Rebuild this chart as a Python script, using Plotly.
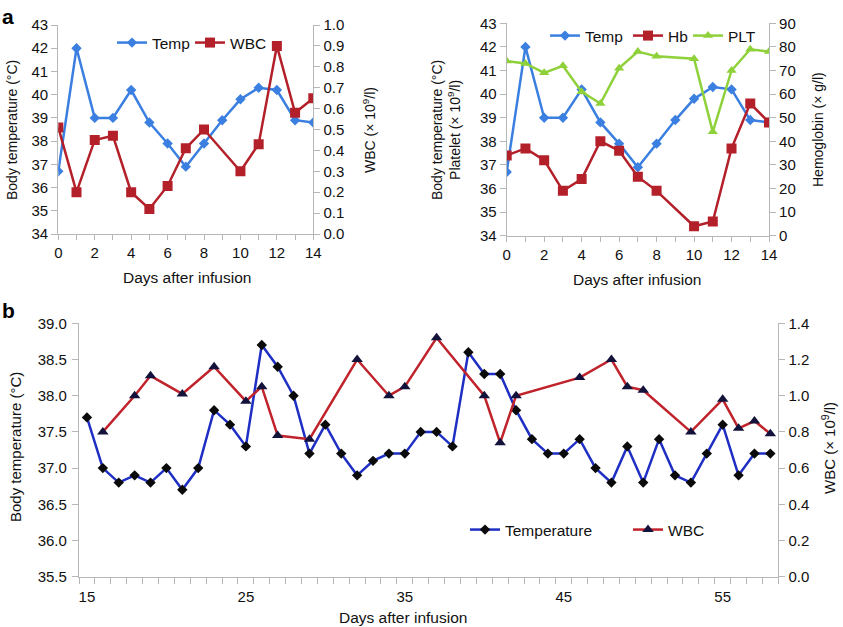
import plotly.graph_objects as go

# ---- Panel a (left): temperature & WBC, days 0-14
a_days = list(range(0, 15))
a_temp = [36.7, 42.0, 39.0, 39.0, 40.2, 38.8, 37.9, 36.9, 37.9, 38.9, 39.8, 40.3, 40.2, 38.9, 38.8]
a_wbc_days = [0, 1, 2, 3, 4, 5, 6, 7, 8, 10, 11, 12, 13, 14]
a_wbc = [0.51, 0.20, 0.45, 0.47, 0.20, 0.12, 0.23, 0.41, 0.50, 0.30, 0.43, 0.90, 0.58, 0.65]

# ---- Panel a (right): temperature, Hb, PLT
r_hb_days = [0, 1, 2, 3, 4, 5, 6, 7, 8, 10, 11, 12, 13, 14]
r_hb = [34, 37, 32, 19, 24, 40, 36, 25, 19, 4, 6, 37, 56, 48]
r_plt_days = [0, 1, 2, 3, 4, 5, 6, 7, 8, 10, 11, 12, 13, 14]
r_plt = [41.4, 41.3, 40.9, 41.2, 40.1, 39.6, 41.1, 41.8, 41.6, 41.5, 38.4, 41.0, 41.9, 41.8]

# ---- Panel b: days 15-58
b_days = list(range(15, 59))
b_temp = [37.7, 37.0, 36.8, 36.9, 36.8, 37.0, 36.7, 37.0, 37.8, 37.6, 37.3,
          38.7, 38.4, 38.0, 37.2, 37.6, 37.2, 36.9, 37.1, 37.2, 37.2, 37.5,
          37.5, 37.3, 38.6, 38.3, 38.3, 37.8, 37.4, 37.2, 37.2, 37.4, 37.0,
          36.8, 37.3, 36.8, 37.4, 36.9, 36.8, 37.2, 37.6, 36.9, 37.2, 37.2]
b_wbc_days = [16, 18, 19, 21, 23, 25, 26, 27, 29, 32, 34, 35, 37, 40, 41, 42,
              46, 48, 49, 50, 53, 55, 56, 57, 58]
b_wbc = [0.80, 1.00, 1.11, 1.01, 1.16, 0.97, 1.05, 0.78, 0.76, 1.20, 1.00, 1.05,
         1.32, 1.00, 0.74, 1.00, 1.10, 1.20, 1.05, 1.03, 0.80, 0.98, 0.82, 0.86, 0.79]

a_ticks = [34, 35, 36, 37, 38, 39, 40, 41, 42, 43]
a_wbc_ticks = [0.0, 0.1, 0.2, 0.3, 0.4, 0.5, 0.6, 0.7, 0.8, 0.9, 1.0]
r_hb_ticks = [0, 10, 20, 30, 40, 50, 60, 70, 80, 90]
b_ticks = [35.5, 36.0, 36.5, 37.0, 37.5, 38.0, 38.5, 39.0]
b_wbc_ticks = [0.0, 0.2, 0.4, 0.6, 0.8, 1.0, 1.2, 1.4]
b_xlabels = [15, 25, 35, 45, 55]

BLUE = "#3b7fe0"
RED = "#b3202a"
GREEN = "#8fd13a"
DBLUE = "#1f2fc4"
DRED = "#c0232b"
AX = "#b4b8b8"
FONT = "Liberation Sans, Arial, sans-serif"

W, H = 843, 627
def px(x):
    return x / W
def py(y):
    return 1 - y / H

fig = go.Figure()

# Panel a left
fig.add_trace(go.Scatter(x=a_days, y=a_temp, name="Temp", mode="lines+markers",
                         line=dict(color=BLUE, width=2.5), marker=dict(symbol="diamond", size=8, color=BLUE),
                         xaxis="x", yaxis="y", legend="legend"))
fig.add_trace(go.Scatter(x=a_wbc_days, y=a_wbc, name="WBC", mode="lines+markers",
                         line=dict(color=RED, width=2.5), marker=dict(symbol="square", size=10, color=RED),
                         xaxis="x", yaxis="y2", legend="legend2"))

# Panel a right
fig.add_trace(go.Scatter(x=a_days, y=a_temp, name="Temp", mode="lines+markers",
                         line=dict(color=BLUE, width=2.5), marker=dict(symbol="diamond", size=8, color=BLUE),
                         xaxis="x2", yaxis="y3", legend="legend3"))
fig.add_trace(go.Scatter(x=r_hb_days, y=r_hb, name="Hb", mode="lines+markers",
                         line=dict(color=RED, width=2.5), marker=dict(symbol="square", size=10, color=RED),
                         xaxis="x2", yaxis="y4", legend="legend4"))
fig.add_trace(go.Scatter(x=r_plt_days, y=r_plt, name="PLT", mode="lines+markers",
                         line=dict(color=GREEN, width=2.5), marker=dict(symbol="triangle-up", size=9, color=GREEN),
                         xaxis="x2", yaxis="y3", legend="legend5"))

# Panel b
fig.add_trace(go.Scatter(x=b_days, y=b_temp, name="Temperature", mode="lines+markers",
                         line=dict(color=DBLUE, width=2.5), marker=dict(symbol="diamond", size=8, color="#0a0a0a"),
                         xaxis="x3", yaxis="y5", legend="legend6"))
fig.add_trace(go.Scatter(x=b_wbc_days, y=b_wbc, name="WBC", mode="lines+markers",
                         line=dict(color=DRED, width=2.5), marker=dict(symbol="triangle-up", size=10, color="#12123a"),
                         xaxis="x3", yaxis="y6", legend="legend7"))

tickfont = dict(family=FONT, size=15, color="#111")
common = dict(showline=True, linecolor=AX, linewidth=1.2, ticks="outside", tickcolor=AX,
              ticklen=6, tickwidth=1.2, showgrid=False, zeroline=False, tickfont=tickfont,
              automargin=False)
xcommon = {**common, "ticklen": 5}

fig.update_layout(
    xaxis=dict(domain=[px(58.3), px(313.3)], range=[0, 14], anchor="y", tickvals=list(range(0, 15, 2)),
               minor=dict(ticks="outside", tickvals=list(range(0, 15)), ticklen=5, tickcolor=AX), **xcommon),
    yaxis=dict(domain=[py(234), py(25)], range=[34, 43], tickvals=a_ticks, anchor="x", **common),
    yaxis2=dict(range=[0, 1.0], tickvals=a_wbc_ticks, tickformat=".1f", overlaying="y", side="right",
                anchor="x", **common),
    xaxis2=dict(domain=[px(506.7), px(769)], range=[0, 14], anchor="y3", tickvals=list(range(0, 15, 2)),
                minor=dict(ticks="outside", tickvals=list(range(0, 15)), ticklen=5, tickcolor=AX), **xcommon),
    yaxis3=dict(domain=[py(235.7), py(23.3)], range=[34, 43], tickvals=a_ticks, anchor="x2", **common),
    yaxis4=dict(range=[0, 90], tickvals=r_hb_ticks, overlaying="y3", side="right", anchor="x2", **common),
    xaxis3=dict(domain=[px(79), px(778.3)], range=[14.5, 58.5], anchor="y5", tickvals=b_xlabels,
                minor=dict(ticks="outside", tick0=14.5, dtick=1, ticklen=6, tickcolor=AX),
                ticklabelstandoff=6, **{**common, "ticks": "", "ticklen": 0}),
    yaxis5=dict(domain=[py(576.7), py(323.3)], range=[35.5, 39.0], tickvals=b_ticks, tickformat=".1f",
                anchor="x3", ticklabelstandoff=2, **common),
    yaxis6=dict(range=[0, 1.4], tickvals=b_wbc_ticks, tickformat=".1f", overlaying="y5", side="right",
                anchor="x3", **common),
)

leg = dict(orientation="h", xanchor="left", yanchor="middle", bgcolor="rgba(0,0,0,0)",
           font=dict(family=FONT, size=15.5, color="#111"), borderwidth=0)
fig.update_layout(
    showlegend=True,
    legend=dict(x=px(112), y=py(43), **leg),
    legend2=dict(x=px(190), y=py(43), **leg),
    legend3=dict(x=px(545), y=py(36), **leg),
    legend4=dict(x=px(628), y=py(36), **leg),
    legend5=dict(x=px(688), y=py(36), **leg),
    legend6=dict(x=px(465), y=py(530), **leg),
    legend7=dict(x=px(628), y=py(530), **leg),
)

tf = dict(family=FONT, size=14, color="#111")
xf = dict(family=FONT, size=15.5, color="#111")
def ann(text, x, y, angle=0, font=tf):
    return dict(text=text, x=px(x), y=py(y), xref="paper", yref="paper", showarrow=False,
                textangle=angle, xanchor="center", yanchor="middle", font=font)

bold = dict(family=FONT, size=21, color="#000")
annotations = [
    dict(text="<b>a</b>", x=0, y=py(3), xref="paper", yref="paper", showarrow=False,
         xanchor="left", yanchor="top", font=bold),
    dict(text="<b>b</b>", x=0, y=py(297), xref="paper", yref="paper", showarrow=False,
         xanchor="left", yanchor="top", font=bold),
    ann("Body temperature (°C)", 12, 130, -90),
    ann("WBC (× 10<sup>9</sup>/l)", 369, 130, -90),
    ann("Days after infusion", 187, 277, 0, xf),
    ann("Body temperature (°C)<br>Platelet (× 10<sup>9</sup>/l)", 446, 130, -90),
    ann("Hemoglobin (× g/l)", 818, 130, -90),
    ann("Days after infusion", 637, 279, 0, xf),
    ann("Body temperature (°C)", 16, 447, -90, dict(family=FONT, size=15, color="#111")),
    ann("WBC (× 10<sup>9</sup>/l)", 828, 448, -90, dict(family=FONT, size=15, color="#111")),
    ann("Days after infusion", 403, 617, 0, xf),
]

fig.update_layout(width=W, height=H, margin=dict(l=0, r=0, t=0, b=0), paper_bgcolor="white",
                  plot_bgcolor="white", annotations=annotations, font=dict(family=FONT))

fig.write_html("out.html", config={"displayModeBar": False},
               post_script="document.body.style.margin='0';document.body.style.overflow='hidden';")
